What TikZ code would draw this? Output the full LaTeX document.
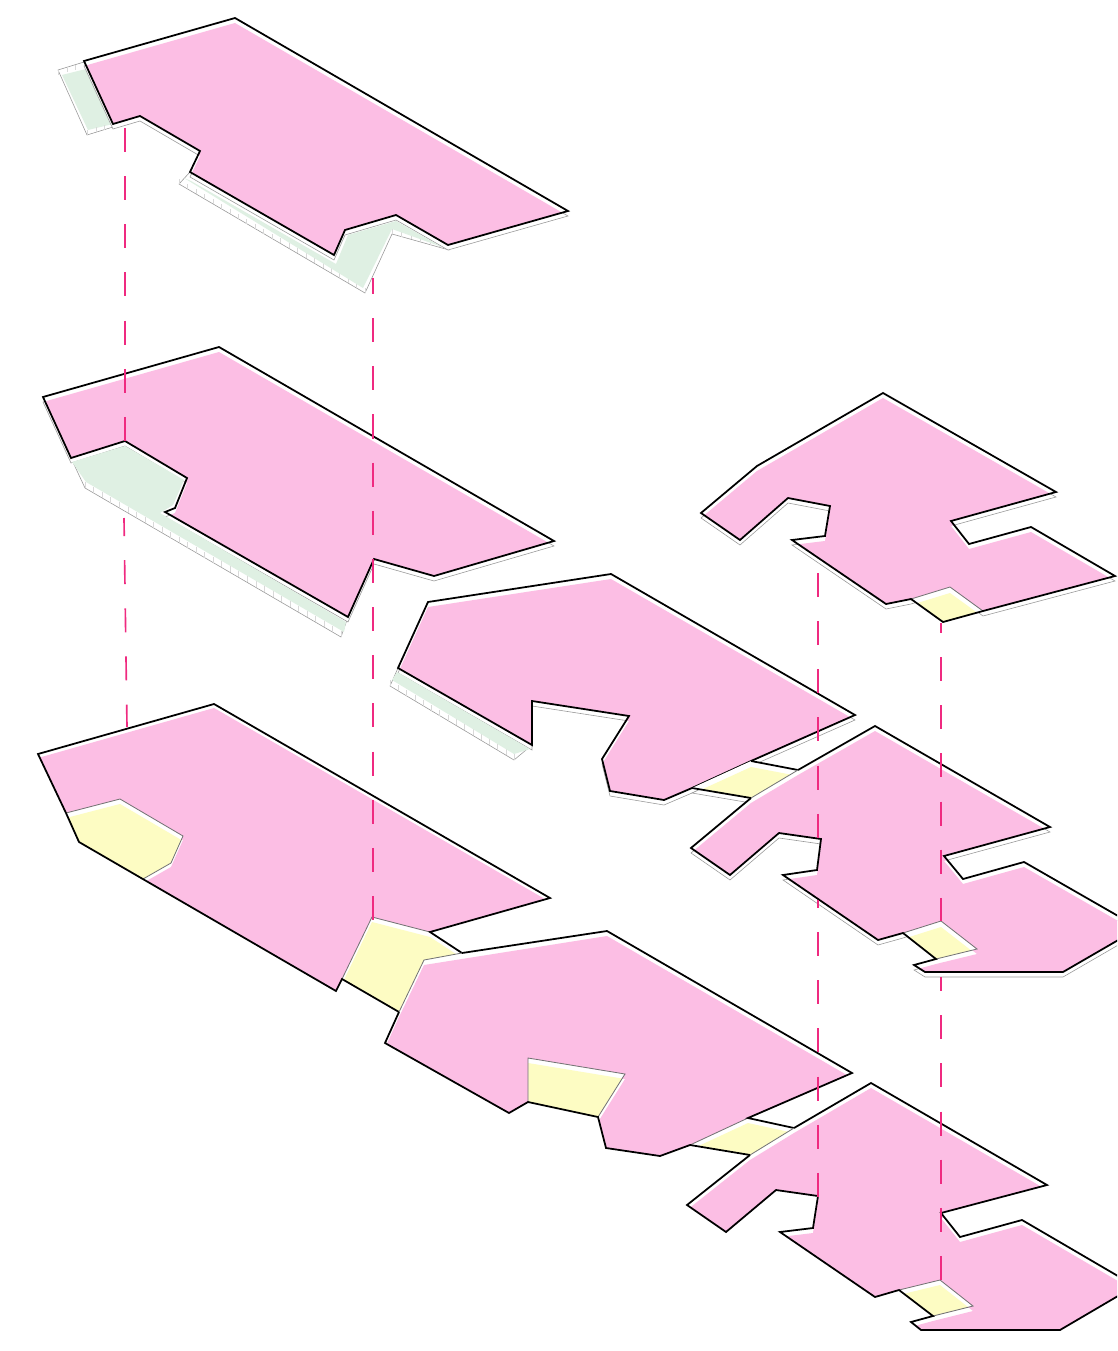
\documentclass[tikz,border=0pt]{standalone}
\usetikzlibrary{calc}

\definecolor{floorpink}{HTML}{FCBEE4}
\definecolor{floorgreen}{HTML}{DFF0E3}
\definecolor{flooryellow}{HTML}{FDFCC3}
\definecolor{linkpink}{HTML}{EF2A80}

\tikzset{
    outline/.style={black, line width=1.5pt, line join=miter},
    innerline/.style={black!55, line width=0.7pt},
    slabline/.style={fill=white, draw=black!40, line width=0.5pt},
    tickline/.style={black!15, line width=0.25pt},
    linkline/.style={linkpink, line width=1.4pt, dash pattern=on 20.5pt off 20.6pt}
}

% upper level
\newcommand{\roofA}{(84,61) -- (235,18) -- (568,211) -- (448,245) -- (396,215) -- (345,230) -- (334,255) -- (190,172) -- (200,151) -- (140,116) -- (113,124) -- cycle}
\newcommand{\roofB}{(701,513) -- (757,466) -- (883,393) -- (1056,492) -- (951,521) -- (969,544) -- (1031,527) -- (1115,576) -- (983,611) -- (950,587) -- (911,599) -- (886,604) -- (792,540) -- (825,536) -- (830,506) -- (788,498) -- (740,540) -- cycle}
% middle level
\newcommand{\midA}{(43,397) -- (219,347) -- (554,541) -- (434,576) -- (374,559) -- (348,617) -- (165,512) -- (175,508) -- (187,478) -- (125,441) -- (71,458) -- cycle}
\newcommand{\midB}{(398,668) -- (428,602) -- (611,574) -- (855,715) -- (751,761) -- (692,788) -- (664,800) -- (610,791) -- (602,759) -- (629,716) -- (532,701) -- (532,745) -- cycle}
\newcommand{\midC}{(751,798) -- (798,770) -- (875,726) -- (1050,827) -- (944,856) -- (963,879) -- (1024,862) -- (1139,928) -- (1063,972) -- (925,972) -- (914,965) -- (936,959) -- (977,949) -- (941,921) -- (903,933) -- (878,940) -- (783,875) -- (817,870) -- (821,839) -- (779,833) -- (730,875) -- (691,848) -- cycle}
% lower level
\newcommand{\lowA}{(38,754) -- (214,704) -- (550,898) -- (430,932) -- (372,917) -- (342,979) -- (336,991) -- (143,879) -- (171,863) -- (183,836) -- (120,799) -- (66,813) -- cycle}
\newcommand{\lowB}{(424,960) -- (607,931) -- (852,1073) -- (748,1118) -- (690,1145) -- (660,1156) -- (606,1148) -- (598,1117) -- (625,1074) -- (528,1058) -- (528,1102) -- (509,1113) -- (385,1043) -- (399,1012) -- cycle}
\newcommand{\lowC}{(750,1155) -- (794,1128) -- (871,1083) -- (1047,1185) -- (941,1213) -- (960,1237) -- (1022,1220) -- (1135,1286) -- (1060,1330) -- (921,1330) -- (911,1322) -- (933,1316) -- (973,1306) -- (940,1280) -- (899,1290) -- (875,1297) -- (780,1232) -- (813,1228) -- (818,1196) -- (776,1190) -- (726,1232) -- (687,1205) -- cycle}

% coloured face, pushed down inside its own outline
\newcommand{\plate}[3]{
    \fill[white] #1;
    \begin{scope}
    \clip #1;
    \fill[#2, shift={(0,#3)}] #1;
    \end{scope}
}
\newcommand{\ticks}[4]{
    \foreach \t in {0,...,#3} {
        \draw[tickline] ($(#1)!\t/#3!(#2)$) -- ++(0,#4);
    }
}

\begin{document}
\begin{tikzpicture}[x=0.03cm, y=-0.03cm]
    \useasboundingbox (0,0) rectangle (1117,1351);
    \clip (0,0) rectangle (1117,1351);

    % Lower level
    \plate{(66,813) -- (120,799) -- (183,836) -- (171,863) -- (143,879) -- (79,842) -- cycle}{flooryellow}{5}
    \plate{(372,917) -- (430,932) -- (462,953) -- (424,960) -- (399,1012) -- (342,979) -- cycle}{flooryellow}{5}
    \plate{\lowA}{floorpink}{4}
    \draw[innerline] (66,813) -- (120,799) -- (183,836) -- (171,863) -- (143,879);
    \draw[innerline] (342,979) -- (372,917) -- (430,932);
    \draw[outline] (66,813) -- (38,754) -- (214,704) -- (550,898) -- (430,932) -- (462,953);
    \draw[outline] (66,813) -- (79,842) -- (336,991) -- (342,979) -- (399,1012);

    \plate{(528,1058) -- (625,1074) -- (598,1117) -- (528,1102) -- cycle}{flooryellow}{5}
    \plate{(690,1145) -- (748,1118) -- (794,1128) -- (750,1155) -- cycle}{flooryellow}{5}
    \plate{\lowB}{floorpink}{5}
    \draw[innerline] (462,953) -- (424,960) -- (399,1012);
    \draw[innerline] (528,1102) -- (528,1058) -- (625,1074) -- (598,1117);
    \draw[innerline] (690,1145) -- (748,1118);
    \draw[outline] (462,953) -- (607,931) -- (852,1073) -- (748,1118) -- (794,1128);
    \draw[outline] (399,1012) -- (385,1043) -- (509,1113) -- (528,1102) -- (598,1117) -- (606,1148) -- (660,1156) -- (690,1145) -- (750,1155);

    \plate{(899,1290) -- (940,1280) -- (973,1306) -- (933,1316) -- cycle}{flooryellow}{5}
    \plate{\lowC}{floorpink}{5}
    \draw[innerline] (750,1155) -- (794,1128);
    \draw[innerline] (899,1290) -- (940,1280) -- (973,1306) -- (933,1316);
    \draw[outline] (794,1128) -- (871,1083) -- (1047,1185) -- (941,1213) -- (960,1237) -- (1022,1220) -- (1135,1286) -- (1060,1330) -- (921,1330) -- (911,1322) -- (933,1316) -- (899,1290) -- (875,1297) -- (780,1232) -- (813,1228) -- (818,1196) -- (776,1190) -- (726,1232) -- (687,1205) -- (750,1155);

    % Middle level
    \draw[slabline] (71,458) -- (125,441) -- (187,478) -- (175,508) -- (165,512) -- (348,617) -- (341,637) -- (85,488) -- cycle;
    \ticks{85,488}{341,637}{30}{-6}
    \draw[slabline, shift={(0,5)}] \midA;
    \fill[floorgreen] (72,462) -- (125,446) -- (184,480) -- (173,505) -- (160,513) -- (346,622) -- (344,632) -- (86,482) -- cycle;
    \plate{\midA}{floorpink}{5}
    \draw[outline] \midA;

    \draw[slabline] (390,686) -- (398,668) -- (532,745) -- (514,760) -- cycle;
    \ticks{390,686}{514,760}{15}{-6}
    \draw[slabline, shift={(0,5)}] \midB;
    \fill[floorgreen] (392,680) -- (397,672) -- (530,749) -- (514,754) -- cycle;
    \plate{\midB}{floorpink}{5}
    \draw[outline] \midB;

    \draw[slabline, shift={(0,5)}] (692,788) -- (751,761) -- (798,770) -- (751,798) -- cycle;
    \plate{(692,788) -- (751,761) -- (798,770) -- (751,798) -- cycle}{flooryellow}{6}
    \draw[outline] (692,788) -- (751,798);
    \draw[outline] (751,761) -- (798,770);

    \draw[slabline, shift={(0,5)}] \midC;
    \plate{(903,933) -- (941,921) -- (977,949) -- (936,959) -- cycle}{flooryellow}{6}
    \plate{\midC}{floorpink}{5}
    \draw[innerline] (903,933) -- (941,921) -- (977,949) -- (936,959);
    \draw[outline] (798,770) -- (875,726) -- (1050,827) -- (944,856) -- (963,879) -- (1024,862) -- (1139,928) -- (1063,972) -- (925,972) -- (914,965) -- (936,959) -- (903,933) -- (878,940) -- (783,875) -- (817,870) -- (821,839) -- (779,833) -- (730,875) -- (691,848) -- (751,798);
    \draw[innerline] (751,798) -- (798,770);

    % Upper level
    \draw[slabline] (58,70) -- (84,62) -- (113,124) -- (113,127) -- (87,135) -- cycle;
    \fill[floorgreen] (62,75) -- (86,69) -- (113,124) -- (88,130) -- cycle;
    \ticks{58,70}{84,62}{3}{5}
    \ticks{87,135}{113,127}{3}{-5}
    \draw[slabline] (179,184) -- (190,172) -- (334,255) -- (345,230) -- (396,215) -- (448,245) -- (449,250) -- (392,234) -- (365,293) -- cycle;
    \ticks{179,184}{365,293}{22}{-5}
    \ticks{392,234}{449,250}{6}{-5}
    \draw[slabline, shift={(0,5)}] \roofA;
    \fill[floorgreen] (191,181) -- (336,264) -- (348,235) -- (396,221) -- (442,247) -- (392,229) -- (363,288) -- (184,178) -- cycle;
    \plate{\roofA}{floorpink}{5}
    \draw[outline] \roofA;

    \draw[slabline, shift={(0,5)}] \roofB;
    \plate{(911,599) -- (950,587) -- (983,611) -- (943,622) -- cycle}{flooryellow}{6}
    \plate{\roofB}{floorpink}{5}
    \draw[innerline] (911,599) -- (950,587) -- (983,611);
    \draw[outline] (983,611) -- (1115,576) -- (1031,527) -- (969,544) -- (951,521) -- (1056,492) -- (883,393) -- (757,466) -- (701,513) -- (740,540) -- (788,498) -- (830,506) -- (825,536) -- (792,540) -- (886,604) -- (911,599) -- (943,622) -- (983,611);

    % Dashed links between levels
    \draw[linkline] (125,128) -- (125,441);
    \draw[linkline, dash phase=5.1pt] (124,518) -- (127,727);
    \draw[linkline, dash phase=6.8pt] (373,278) -- (373,920);
    \draw[linkline] (818,573) -- (818,838);
    \draw[linkline, dash phase=13.7pt] (818,900) -- (818,1197);
    \draw[linkline, dash phase=12pt] (941,623) -- (941,921);
    \draw[linkline, dash phase=8.5pt] (941,977) -- (941,1280);
\end{tikzpicture}
\end{document}
